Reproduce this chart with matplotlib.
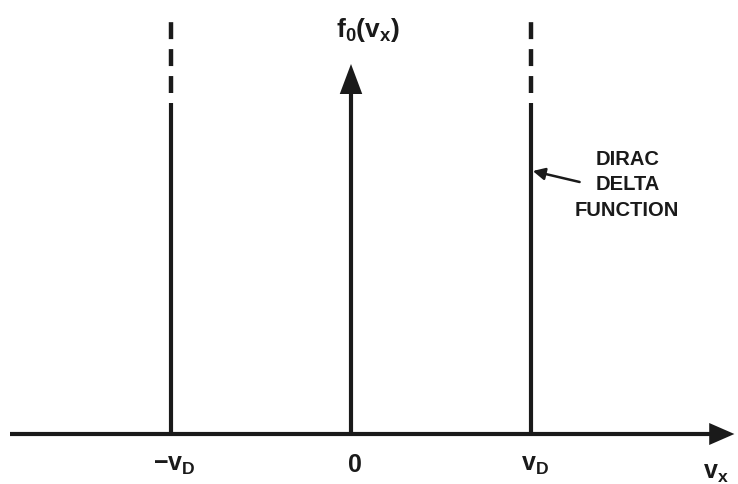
import numpy as np
import matplotlib.pyplot as plt

plt.rcParams['font.family'] = ['Liberation Sans', 'DejaVu Sans']
plt.rcParams['mathtext.fontset'] = 'custom'
plt.rcParams['mathtext.bf'] = 'Liberation Sans:bold'
plt.rcParams['mathtext.rm'] = 'Liberation Sans:bold'
plt.rcParams['mathtext.it'] = 'Liberation Sans:bold'
plt.rcParams['mathtext.default'] = 'bf'
plt.rcParams['lines.scale_dashes'] = False

# data: positions in units of v_D
delta_pos = [-1.0, 1.0]
delta_solid_top = [3.31, 3.31]
delta_dash_top = 4.12
tick_pos = [-1.0, 0.0, 1.0]
tick_labels = [r"$-v_D$", r"$0$", r"$v_D$"]
yaxis_top = 3.70
ink = "#1a1a1a"

fig = plt.figure(figsize=(7.38, 4.85), dpi=100)
ax = fig.add_axes([0, 0, 1, 1])
ax.set_xlim(-1.95, 2.15)
ax.set_ylim(-0.50, 4.35)
ax.set_axis_off()

# horizontal axis with arrow head
ax.plot([-1.895, 1.995], [0, 0], color=ink, lw=3, solid_capstyle="butt")
ax.arrow(1.99, 0, 0.14, 0, head_width=0.22, head_length=0.14,
         length_includes_head=True, color=ink, lw=0)

# vertical axis with arrow head
ax.plot([0, 0], [0, yaxis_top - 0.28], color=ink, lw=3, solid_capstyle="butt")
ax.arrow(0, yaxis_top - 0.32, 0, 0.32, head_width=0.125, head_length=0.30,
         length_includes_head=True, color=ink, lw=0)

# delta functions: solid part + dashed continuation (starts with a gap)
for x, top in zip(delta_pos, delta_solid_top):
    ax.plot([x, x], [0, top], color=ink, lw=3, solid_capstyle="butt")
    ax.plot([x, x], [top, delta_dash_top], color=ink, lw=3.2,
            linestyle=(12.2, (12.2, 7.2)), dash_capstyle="butt")

for x, lab in zip(tick_pos, tick_labels):
    ax.text(x + 0.02, -0.30, lab, ha="center", va="center", fontsize=18,
            color=ink)

ax.text(1.955, -0.38, r"$v_x$", ha="left", va="center", fontsize=18, color=ink)
ax.text(0.095, 4.05, r"$f_0(v_x)$", ha="center", va="center", fontsize=19,
        color=ink)

ax.annotate("", xy=(1.01, 2.63), xytext=(1.27, 2.52),
            arrowprops=dict(arrowstyle="-|>", lw=1.8, color=ink,
                            mutation_scale=18, shrinkA=0, shrinkB=0))
ax.text(1.535, 2.5, "DIRAC\nDELTA\nFUNCTION", ha="center", va="center",
        fontsize=14.5, fontweight="bold", linespacing=1.45, color=ink)

fig.savefig("out.png", dpi=100)
